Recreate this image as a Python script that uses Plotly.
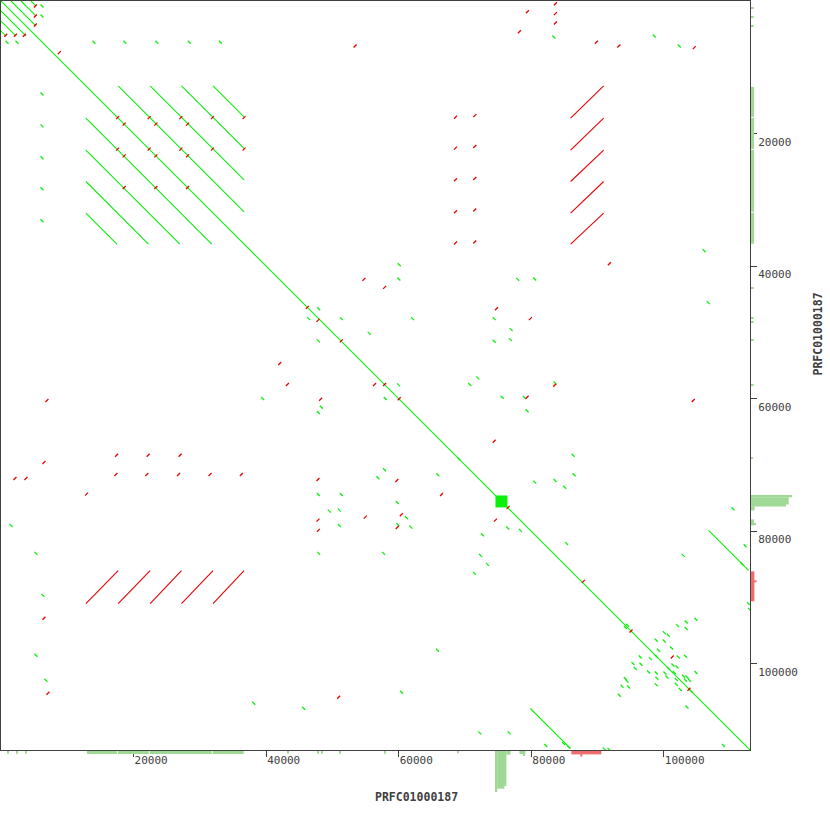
import plotly.graph_objects as go

SEQ_NAME = "PRFC01000187"
SEQ_LEN = 113000
tick_vals = [20000, 40000, 60000, 80000, 100000]
tick_text = ["20000", "40000", "60000", "80000", "100000"]

# ---- long alignments (bp): x1, y1, x2, y2, strand ----
aln_x1 = [0, 1510, 3020, 4530, 0, 0, 0,
          17680, 12810, 22500, 12810, 27230, 12810, 31990, 12810,
          85940, 85940, 85940, 85940, 85940,
          12810, 17680, 22500, 27230, 31990,
          79870, 106740]
aln_y1 = [0, 0, 0, 0, 1510, 3020, 4530,
          12810, 17680, 12810, 22500, 12810, 27230, 12810, 31990,
          17680, 22500, 27230, 31990, 36670,
          90920, 90920, 90920, 90920, 90920,
          106740, 79870]
aln_x2 = [113000, 5300, 5300, 5300, 3790, 2280, 770,
          36670, 31800, 36670, 26980, 36670, 22250, 36670, 17490,
          90920, 90920, 90920, 90920, 90920,
          17680, 22500, 27230, 31990, 36670,
          85900, 112770]
aln_y2 = [113000, 3790, 2280, 770, 5300, 5300, 5300,
          31800, 36670, 26980, 36670, 22250, 36670, 17490, 36670,
          12810, 17680, 22500, 27230, 31990,
          85940, 85940, 85940, 85940, 85940,
          112770, 85900]
aln_strand = ["+"] * 15 + ["-"] * 10 + ["+"] * 2

# dense low-complexity block (bp)
dense_start = 74600
dense_end = 76400

# ---- short forward hits (bp) ----
fwd_x = [900, 2410, 14020, 18690, 23510, 28410, 33090,
         6180, 6180, 6180, 6180, 6180, 6180, 6180,
         83410, 98560, 102330,
         60080, 60020, 77960, 80520, 47920, 46420, 51340, 62090, 74400, 76960,
         55560, 47880, 74400, 76860, 71930, 59980, 70720, 83590, 57970, 75610,
         78970, 48330, 47880, 79370, 69070, 86310, 57870, 56860, 65900, 80520,
         83590, 85040, 86460, 47880, 51340, 59780, 49530, 51040, 61180, 51040,
         59870, 61830, 76450, 78360, 72640, 85340, 72340,
         94530, 94190, 102070, 103380, 104840, 103380, 100060, 100670, 98860,
         100060, 101170, 99210, 96450, 98860, 97960, 102170, 103270, 95350,
         96550, 101380, 95690, 100710, 101980, 97700, 98860, 100170, 101570,
         104840, 102970, 103490, 94190, 94440, 98960, 100470, 101870, 103270,
         103880, 98860, 101870, 93690, 94680, 102480, 104090, 93280, 103490,
         112770, 112920,
         72230, 76660, 82180, 84890, 85640, 91020, 91730, 109000,
         110420, 112270, 111770,
         1510, 5270, 6330, 5270, 6780, 39480, 38130, 45660, 60430, 65860,
         47920, 57720, 71430, 73390, 106090, 106700, 102930]
fwd_y = [6220, 6220, 6220, 6220, 6220, 6220, 6220,
         750, 2260, 14020, 18840, 23660, 28330, 33150,
         5430, 5270, 6780,
         39780, 41940, 42000, 41940, 46420, 47920, 47920, 47920, 47920, 49580,
         50140, 51280, 51340, 51090, 56860, 57910, 57870, 57610, 59980, 59780,
         59830, 61290, 62090, 61830, 69070, 68520, 70720, 71930, 71480, 72590,
         72340, 73350, 71480, 74450, 74450, 75650, 76960, 76810, 77960, 79120,
         79010, 79370, 79520, 79870, 80520, 81870, 83640,
         94190, 94530, 94230, 93690, 93280, 94680, 95290, 95690, 96450,
         96550, 97610, 97960, 98960, 98860, 99210, 98960, 98860, 99960,
         100060, 100170, 100710, 100710, 100470, 101230, 101380, 101380, 101320,
         101320, 101870, 101980, 102220, 102580, 102170, 101980, 102370, 102480,
         102480, 103180, 103080, 103380, 103490, 103880, 104090, 104740, 106500,
         90920, 91780,
         110420, 110420, 112320, 112020, 112570, 112830, 112900, 112320,
         76600, 82180, 84890,
         79120, 83340, 89670, 98710, 102480, 59980, 105940, 106700, 104280, 97960,
         83340, 83340, 86350, 85000, 37680, 45510, 83640]

# ---- short reverse hits (bp) ----
rev_x = [83640, 79420, 83640, 83640, 78210, 89820, 93210, 104590, 53420, 8790,
         5180, 5180, 5180, 720, 2170, 3530,
         68570, 68570, 68570, 68570, 68570,
         71480, 71480, 71480, 71480, 71480,
         17330, 22000, 26780, 31540, 36270,
         17440, 22200, 27020,
         12910,
         54750, 57870, 46220, 47820, 74750, 79870, 51340, 43210, 56360, 57870,
         83530, 48220, 60080, 79370, 74400, 47820, 59720, 66460, 76510, 54960,
         60390, 47820, 74600, 59780, 47880,
         95050, 101270, 103790,
         91780, 104440, 6930, 6480, 2110, 3770, 6480, 7080, 42050, 50940, 87860,
         17590, 22350, 27130, 31900, 36670, 18580, 23360, 28140,
         17590, 22350, 27130, 31900, 36670, 18580, 23360, 28140,
         18580, 23360, 28140]
rev_y = [410, 1610, 1910, 3320, 4630, 6220, 6780, 7040, 6780, 7790,
         750, 2260, 3620, 5170, 5170, 5170,
         17530, 22200, 26980, 31800, 36510,
         17290, 21960, 26780, 31540, 36360,
         71430, 71430, 71430, 71430, 71430,
         68520, 68520, 68520,
         74400,
         42000, 43210, 46220, 48180, 46420, 47920, 51280, 57870, 57870, 57870,
         57970, 60080, 60020, 59780, 66410, 72190, 72340, 74450, 76400, 77870,
         77510, 78320, 78320, 79420, 79870,
         95050, 98960, 103830,
         39630, 60280, 60280, 69620, 72030, 72030, 93130, 104440, 54700, 105040, 87560,
         17590, 17590, 17590, 17590, 17590, 18580, 18580, 18580,
         22350, 22350, 22350, 22350, 22350, 23360, 23360, 23360,
         28140, 28140, 28140]

# ---- coverage track (bp, depth) ----
cov_start = [12960, 17630, 22450, 31950, 1000, 2360, 3720, 43180, 47700, 48300,
             51020, 57800, 68800, 74600, 74850, 75950, 76250, 78210, 78800,
             86050, 87400]
cov_end = [17480, 22300, 31800, 36620, 1150, 2510, 3870, 43330, 47850, 48450,
           51170, 57950, 68950, 74850, 75950, 76250, 76860, 79120, 79000,
           90570, 87710]
cov_depth = [1, 1, 1, 1, 0.9, 0.9, 0.9, 0.9, 0.9, 0.9,
             0.9, 0.9, 0.7, 13.4, 12.3, 11.4, 1.2, 1.0, 1.6,
             1.1, 1.8]
cov_strand = ["+"] * 19 + ["-"] * 2

GREEN = "rgb(10,240,10)"
RED = "rgb(235,0,0)"
TRACK_GREEN = "rgb(160,216,150)"
TRACK_RED = "rgb(238,108,108)"
AX = "#404040"

fig = go.Figure()

for strand, col in (("+", GREEN), ("-", RED)):
    xs, ys = [], []
    for a, b, c, d, s in zip(aln_x1, aln_y1, aln_x2, aln_y2, aln_strand):
        if s == strand:
            xs += [a, c, None]
            ys += [b, d, None]
    fig.add_trace(go.Scatter(x=xs, y=ys, mode="lines",
                             line=dict(color=col, width=1.1),
                             hoverinfo="skip", showlegend=False))

fig.add_trace(go.Scatter(
    x=[dense_start, dense_end, dense_end, dense_start],
    y=[dense_start, dense_start, dense_end, dense_end],
    mode="lines", fill="toself", fillcolor=GREEN, line=dict(width=0, color=GREEN),
    hoverinfo="skip", showlegend=False))

fig.add_trace(go.Scatter(x=fwd_x, y=fwd_y, mode="markers",
                         marker=dict(symbol="line-nw", size=3,
                                     line=dict(color=GREEN, width=1.3)),
                         hoverinfo="skip", showlegend=False))
fig.add_trace(go.Scatter(x=rev_x, y=rev_y, mode="markers",
                         marker=dict(symbol="line-ne", size=3,
                                     line=dict(color=RED, width=1.3)),
                         hoverinfo="skip", showlegend=False))

centers = [(s + e) / 2 for s, e in zip(cov_start, cov_end)]
widths = [e - s for s, e in zip(cov_start, cov_end)]
cols = [TRACK_GREEN if s == "+" else TRACK_RED for s in cov_strand]

# bottom coverage track
fig.add_trace(go.Bar(x=centers, y=cov_depth, width=widths, base=0,
                     marker=dict(color=cols, line=dict(width=0)),
                     xaxis="x", yaxis="y3", hoverinfo="skip", showlegend=False))
# right coverage track
fig.add_trace(go.Bar(y=centers, x=cov_depth, width=widths, base=0, orientation="h",
                     marker=dict(color=cols, line=dict(width=0)),
                     xaxis="x2", yaxis="y", hoverinfo="skip", showlegend=False))

W = 830
m = 1
span = W - 2 * m
x_dom = [0, 749 / span]
y_dom = [(W - m - 750) / span, 1]

tick_font = dict(family="DejaVu Sans Mono", size=11, color=AX)

fig.update_layout(
    width=W, height=W,
    margin=dict(l=m, r=m, t=m, b=m, autoexpand=False),
    paper_bgcolor="white", plot_bgcolor="white",
    barmode="overlay",
    xaxis=dict(domain=x_dom, range=[0, SEQ_LEN], anchor="y",
               showline=True, mirror=True, linecolor=AX, linewidth=1,
               ticks="outside", ticklen=6, tickcolor=AX, tickwidth=1,
               tickvals=tick_vals, ticktext=tick_text,
               ticklabelposition="outside right", automargin=False,
               tickfont=tick_font, showgrid=False, zeroline=False),
    yaxis=dict(domain=y_dom, range=[SEQ_LEN, 0], anchor="x", side="right",
               showline=True, mirror=True, linecolor=AX, linewidth=1,
               ticks="outside", ticklen=6, tickcolor=AX, tickwidth=1,
               tickvals=tick_vals, ticktext=tick_text,
               ticklabelposition="outside bottom", ticklabelstandoff=5,
               automargin=False,
               tickfont=tick_font, showgrid=False, zeroline=False),
    yaxis3=dict(domain=[(W - m - 797) / span, (W - m - 751) / span],
                range=[15, 0], anchor="x", visible=False),
    xaxis2=dict(domain=[(751 - m) / span, (797 - m) / span],
                range=[0, 15], anchor="y", visible=False),
    annotations=[
        dict(text="<b>" + SEQ_NAME + "</b>", xref="paper", yref="paper",
             x=(416.5 - m) / span, y=(W - m - 796.5) / span,
             xanchor="center", yanchor="middle", showarrow=False,
             font=dict(family="DejaVu Sans Mono", size=11.5, color=AX)),
        dict(text="<b>" + SEQ_NAME + "</b>", xref="paper", yref="paper",
             x=(817 - m) / span, y=(W - m - 334.5) / span, textangle=-90,
             xanchor="center", yanchor="middle", showarrow=False,
             font=dict(family="DejaVu Sans Mono", size=11.5, color=AX)),
    ],
)

fig.write_html("out.html",
               config={"displayModeBar": False},
               post_script="document.body.style.margin='0';"
                           "document.body.style.overflow='hidden';")
